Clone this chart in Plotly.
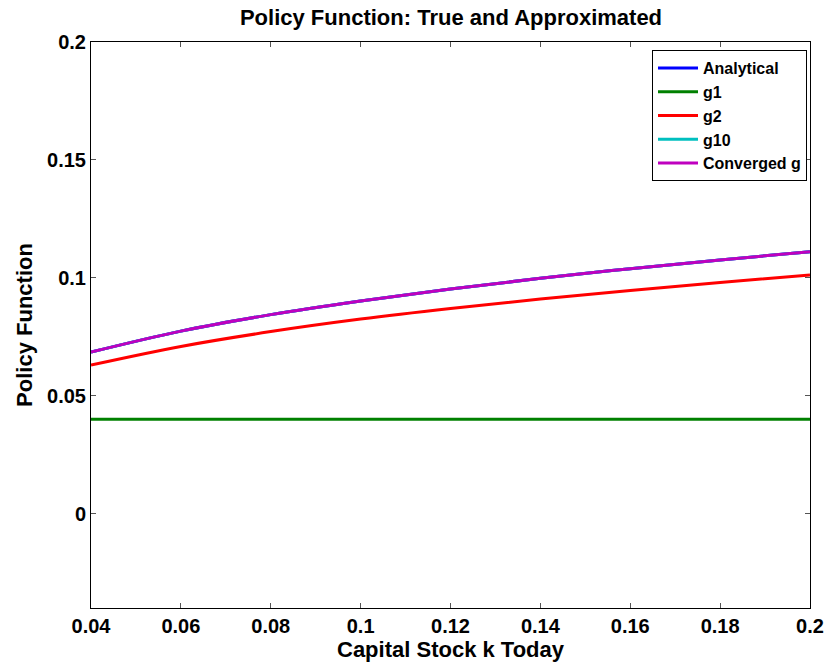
import plotly.graph_objects as go

k = [0.04, 0.06, 0.08, 0.10, 0.12, 0.14, 0.16, 0.18, 0.20]
analytical = [0.0685, 0.0774, 0.0844, 0.0902, 0.0953, 0.0998, 0.1039, 0.1076, 0.1111]
g1 = [0.04, 0.04, 0.04, 0.04, 0.04, 0.04, 0.04, 0.04, 0.04]
g2 = [0.0630, 0.0709, 0.0772, 0.0825, 0.0870, 0.0910, 0.0946, 0.0980, 0.1012]
g10 = [0.0685, 0.0774, 0.0844, 0.0902, 0.0953, 0.0998, 0.1039, 0.1076, 0.1111]
converged = [0.0685, 0.0774, 0.0844, 0.0902, 0.0953, 0.0998, 0.1039, 0.1076, 0.1111]

x_ticks = [0.04, 0.06, 0.08, 0.1, 0.12, 0.14, 0.16, 0.18, 0.2]
x_ticklabels = ["0.04", "0.06", "0.08", "0.1", "0.12", "0.14", "0.16", "0.18", "0.2"]
y_ticks = [0, 0.05, 0.1, 0.15, 0.2]
y_ticklabels = ["0", "0.05", "0.1", "0.15", "0.2"]

series = [
    ("Analytical", analytical, "#0000ff"),
    ("g1", g1, "#008000"),
    ("g2", g2, "#ff0000"),
    ("g10", g10, "#00bfbf"),
    ("Converged g", converged, "#bf00bf"),
]

FONT = "Liberation Sans, Arial, sans-serif"

fig = go.Figure()
for name, vals, col in series:
    fig.add_trace(go.Scatter(x=k, y=vals, mode="lines", name=name,
                             line=dict(color=col, width=3, shape="spline")))

axis_common = dict(
    showline=True, linecolor="black", linewidth=1, mirror="ticks",
    ticks="inside", ticklen=5, tickcolor="#555555", tickwidth=1,
    showgrid=False, zeroline=False, automargin=False,
    tickfont=dict(family=FONT, size=20, color="black", weight="bold"),
)

W, H = 828, 666
L, R, T, B = 91, 18, 42, 58
fig.update_layout(
    width=W, height=H,
    margin=dict(l=L, r=R, t=T, b=B, autoexpand=False),
    paper_bgcolor="white", plot_bgcolor="white",
    title=dict(text="Policy Function: True and Approximated", x=451 / W,
               xanchor="center", y=1 - 17 / H, yanchor="middle",
               font=dict(family=FONT, size=22, color="black", weight="bold")),
    xaxis=dict(range=[0.04, 0.2], tickvals=x_ticks, ticktext=x_ticklabels,
               title=dict(text="Capital Stock k Today", standoff=2,
                          font=dict(family=FONT, size=22, color="black", weight="bold")),
               **axis_common),
    yaxis=dict(range=[-0.04, 0.2], tickvals=y_ticks, ticktext=y_ticklabels,
               title=dict(text="Policy Function", standoff=8,
                          font=dict(family=FONT, size=22, color="black", weight="bold")),
               **axis_common),
    legend=dict(x=(807 - L) / (W - L - R), xanchor="right",
                y=(H - B - 50) / (H - T - B), yanchor="top",
                bordercolor="black", borderwidth=1, bgcolor="white",
                font=dict(family=FONT, size=16, color="black", weight="bold"),
                tracegroupgap=0, itemwidth=40),
    showlegend=True,
)

fig.write_html("out.html", config={"displayModeBar": False},
               post_script="document.body.style.margin='0';document.body.style.overflow='hidden';")
